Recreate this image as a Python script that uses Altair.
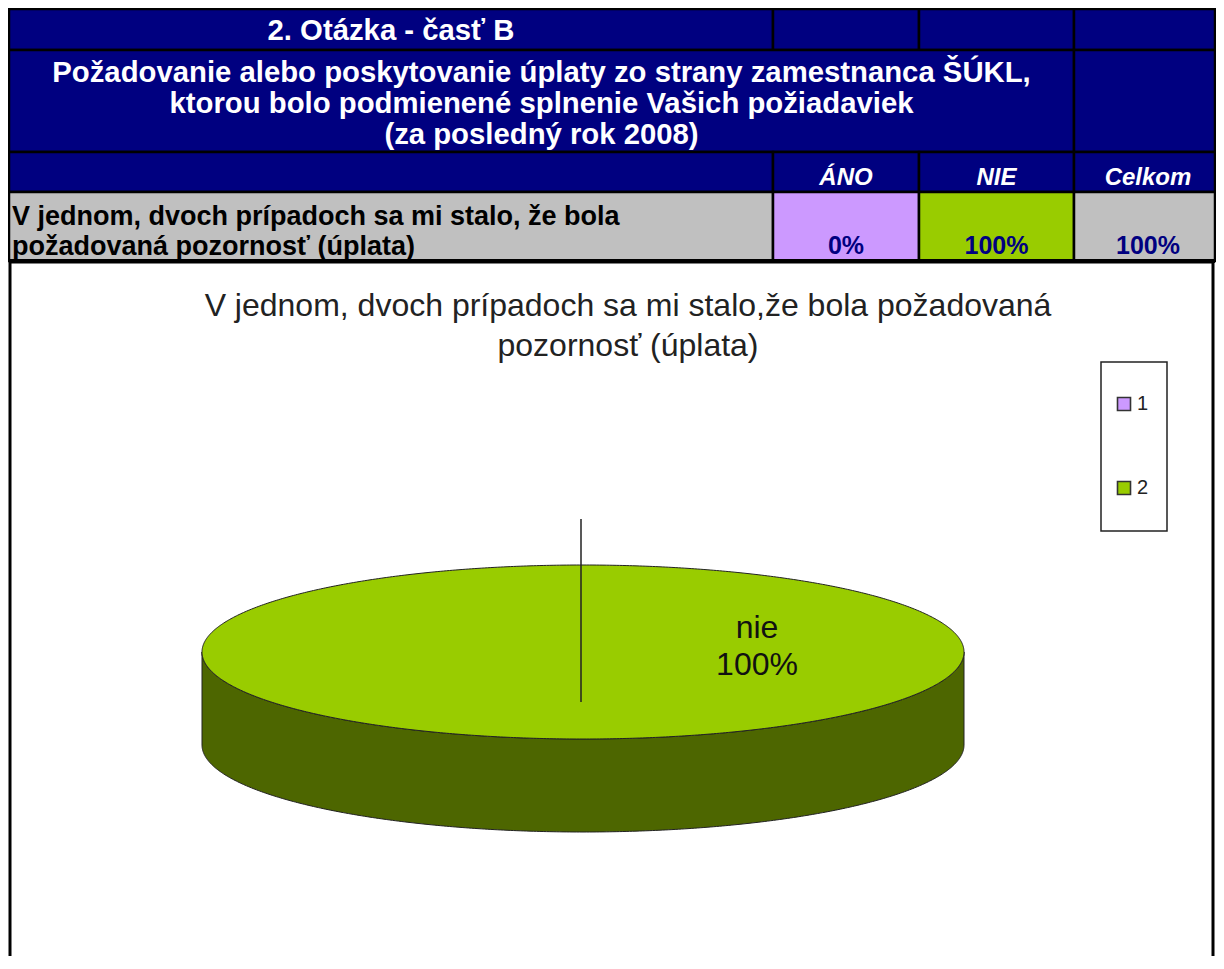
import altair as alt
import pandas as pd

# ---------------- data ----------------
question_title = "2. Otázka - časť B"
question_text = [
    "Požadovanie alebo poskytovanie úplaty zo strany zamestnanca ŠÚKL,",
    "ktorou bolo  podmienené splnenie Vašich požiadaviek",
    "(za posledný rok 2008)",
]
column_headers = ["ÁNO", "NIE", "Celkom"]
row_label = ["V jednom, dvoch prípadoch sa mi stalo, že bola", "požadovaná pozornosť (úplata)"]
row_values = [0, 100, 100]  # percent
chart_title = ["V jednom, dvoch prípadoch sa mi stalo,že bola požadovaná", "pozornosť (úplata)"]
slice_keys = ["1", "2"]
slice_labels = ["áno", "nie"]
slice_values = [0, 100]
slice_colors = ["#CC99FF", "#99CC00"]

# ---------------- layout ----------------
FONT = "Liberation Sans"
NAVY = "#000080"
GRAY = "#C0C0C0"
SIDE = "#4D6600"
W, H = 1208, 948
cols = [1, 765, 911, 1066, 1207]
rows = [1, 42, 144, 184, 253]
col_centers = [838, 988.5, 1140]
CX, CY, RX, RY, DEPTH = 575, 644, 381, 87, 93

X = lambda f: alt.X(f, scale=None, axis=None)
Y = lambda f: alt.Y(f, scale=None, axis=None, stack=None)

# table cells
cell_fill_row4 = [GRAY, slice_colors[0], slice_colors[1], GRAY]
cells = []
for c in range(4):
    cells.append((cols[c], rows[0], cols[c + 1], rows[1], NAVY))
cells.append((cols[0], rows[1], cols[3], rows[2], NAVY))
cells.append((cols[3], rows[1], cols[4], rows[2], NAVY))
for c in range(4):
    cells.append((cols[c], rows[2], cols[c + 1], rows[3], NAVY))
for c in range(4):
    cells.append((cols[c], rows[3], cols[c + 1], rows[4], cell_fill_row4[c]))
cells_df = pd.DataFrame(cells, columns=["x", "y", "x2", "y2", "fill"])

table_rects = alt.Chart(cells_df).mark_rect(stroke="black", strokeWidth=2.5).encode(
    x=X("x:Q"), x2="x2:Q", y=Y("y:Q"), y2="y2:Q", fill=alt.Fill("fill:N", scale=None)
)
bottom_line = alt.Chart(cells_df.head(1)).mark_rule(color="black", strokeWidth=4).encode(
    x=alt.value(cols[0]), x2=alt.value(cols[4]), y=alt.value(rows[4])
)

# frame around the chart
frame = alt.Chart(cells_df.head(1)).mark_rect(fill="white", stroke="black", strokeWidth=3).encode(
    x=alt.value(2), x2=alt.value(1205), y=alt.value(254), y2=alt.value(H + 20)
)

# table texts
t_title = alt.Chart(pd.DataFrame({"t": [question_title]})).mark_text(
    font=FONT, fontSize=29.3, fontWeight="bold", color="white", baseline="middle", align="center"
).encode(x=alt.value((cols[0] + cols[1]) / 2), y=alt.value(23), text="t:N")

t_question = alt.Chart(pd.DataFrame({"t": ["\n".join(question_text)]})).mark_text(
    font=FONT, fontSize=29.3, fontWeight="bold", color="white", baseline="middle", align="center",
    lineBreak="\n", lineHeight=31
).encode(x=alt.value((cols[0] + cols[3]) / 2), y=alt.value(65), text="t:N")

hdr_df = pd.DataFrame({
    "t": column_headers,
    "x": col_centers,
    "v": [f"{v}%" for v in row_values],
})
t_headers = alt.Chart(hdr_df).mark_text(
    font=FONT, fontSize=24, fontWeight="bold", fontStyle="italic", color="white",
    baseline="middle", align="center"
).encode(x=X("x:Q"), y=alt.value(170), text="t:N")
t_values = alt.Chart(hdr_df).mark_text(
    font=FONT, fontSize=25, fontWeight="bold", color=NAVY, baseline="middle", align="center"
).encode(x=X("x:Q"), y=alt.value(238), text="v:N")

t_rowlabel = alt.Chart(pd.DataFrame({"t": ["\n".join(row_label)]})).mark_text(
    font=FONT, fontSize=27, fontWeight="bold", color="black", baseline="middle", align="left",
    lineBreak="\n", lineHeight=30
).encode(x=alt.value(4), y=alt.value(209), text="t:N")

# chart title
t_chart_title = alt.Chart(pd.DataFrame({"t": ["\n".join(chart_title)]})).mark_text(
    font=FONT, fontSize=32, color="#222222", baseline="middle", align="center",
    lineBreak="\n", lineHeight=40
).encode(x=alt.value(620), y=alt.value(298), text="t:N")

# 3D pie (single non-zero slice fills the whole disc)
pie_df = pd.DataFrame({"key": slice_keys, "label": slice_labels, "value": slice_values})
pie_base = (
    alt.Chart(pie_df)
    .transform_joinaggregate(total="sum(value)")
    .transform_filter("datum.value > 0")
    .transform_calculate(t="sequence(0, 180.5, 0.5)")
    .transform_flatten(["t"])
    .transform_calculate(
        px=f"{CX} + {RX} * cos(datum.t * PI / 180)",
        top=f"{CY} - {RY} * sin(datum.t * PI / 180)",
        bot=f"{CY} + {RY} * sin(datum.t * PI / 180)",
        bot2=f"{CY} + {DEPTH} + {RY} * sin(datum.t * PI / 180)",
    )
)
pie_side = pie_base.mark_area(color=SIDE, stroke="#222222", strokeWidth=1).encode(
    x=X("px:Q"), y=Y("bot:Q"), y2="bot2:Q"
)
pie_top = pie_base.mark_area(stroke="#222222", strokeWidth=1).encode(
    x=X("px:Q"), y=Y("top:Q"), y2="bot:Q",
    color=alt.Color(
        "key:N",
        scale=alt.Scale(domain=slice_keys, range=slice_colors),
        legend=alt.Legend(
            title=None, orient="none", legendX=1106, legendY=386, symbolType="square",
            symbolSize=169, symbolStrokeColor="#333333", symbolStrokeWidth=1.6,
            labelFont=FONT, labelFontSize=20, labelColor="#222222", rowPadding=64,
            labelOffset=3, padding=0,
        ),
    ),
)
leader = alt.Chart(pie_df.head(1)).mark_rule(color="#222222", strokeWidth=1.5).encode(
    x=alt.value(573), y=alt.value(511), y2=alt.value(694)
)
pie_label = (
    alt.Chart(pie_df)
    .transform_filter("datum.value > 0")
    .transform_calculate(lbl="datum.label + '\\n' + datum.value + '%'")
    .mark_text(font=FONT, fontSize=32, color="#111111", baseline="middle", align="center",
               lineBreak="\n", lineHeight=37)
    .encode(x=alt.value(749), y=alt.value(620), text="lbl:N")
)

legend_box = alt.Chart(pie_df.head(1)).mark_rect(fill="white", stroke="#222222", strokeWidth=1.5).encode(
    x=alt.value(1093), x2=alt.value(1159), y=alt.value(354), y2=alt.value(523)
)

chart = alt.layer(
    frame, legend_box, pie_side, pie_top, leader, pie_label, t_chart_title,
    table_rects, bottom_line, t_title, t_question, t_headers, t_values, t_rowlabel,
).properties(
    width=W, height=H, padding=0, autosize=alt.AutoSizeParams(type="none"),
    background="white",
).configure_view(stroke=None)

chart.save("out.html", embed_options={"renderer": "svg", "actions": False})
